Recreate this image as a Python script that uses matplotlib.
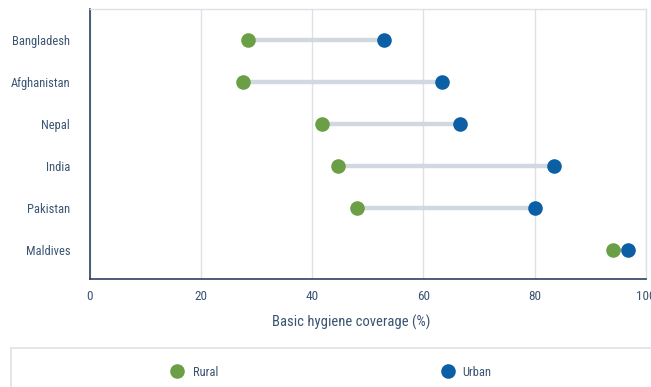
import matplotlib
matplotlib.use("Agg")
import matplotlib.pyplot as plt
from matplotlib import font_manager
from matplotlib.lines import Line2D

# prefer a narrow sans face when one is installed
_installed = {f.name for f in font_manager.fontManager.ttflist}
_prefs = ["Roboto Condensed", "Liberation Sans Narrow", "Open Sans Condensed",
          "Noto Sans Display", "Liberation Sans", "Roboto"]
_face = next((f for f in _prefs if f in _installed), "DejaVu Sans")
plt.rcParams['font.family'] = [_face, 'DejaVu Sans']

countries = ["Bangladesh", "Afghanistan", "Nepal", "India", "Pakistan", "Maldives"]
rural = [28.5, 27.5, 41.8, 44.7, 48.0, 94.1]
urban = [53.0, 63.3, 66.6, 83.4, 80.0, 96.8]
x_ticks = [0, 20, 40, 60, 80, 100]

GREEN = "#6a9f45"
BLUE = "#0b5fa4"
LINK = "#d2d8df"
TEXT = "#3a5472"
NAVY = "#2c4260"
GRID = "#dde1e6"

fig = plt.figure(figsize=(6.51, 3.87), dpi=100)
W, H = 651, 387
ax = fig.add_axes([89.6 / W, 1 - 279 / H, (646 - 89.6) / W, (279 - 9) / H])

ypos = list(range(len(countries)))
for y, r, u in zip(ypos, rural, urban):
    ax.plot([r, u], [y, y], color=LINK, lw=3.2, solid_capstyle="butt", zorder=2)
ax.plot(rural, ypos, "o", color=GREEN, ms=10.5, mec="none", zorder=3, clip_on=False)
ax.plot(urban, ypos, "o", color=BLUE, ms=10.5, mec="none", zorder=3, clip_on=False)

ax.set_xlim(0, 100)
ax.set_ylim(5.7, -0.74)
ax.set_xticks(x_ticks)
ax.set_xticklabels([str(t) for t in x_ticks], color=TEXT, fontsize=9.5)
ax.set_yticks(ypos)
ax.set_yticklabels(countries, color=TEXT, fontsize=9)
ax.tick_params(axis="both", length=0)
ax.tick_params(axis="x", pad=8)
ax.tick_params(axis="y", pad=14)

ax.grid(axis="x", color=GRID, lw=1, zorder=0)
ax.set_axisbelow(True)
for side in ("top", "right"):
    ax.spines[side].set_color(GRID)
    ax.spines[side].set_linewidth(1)
for side in ("left", "bottom"):
    ax.spines[side].set_color(NAVY)
    ax.spines[side].set_linewidth(1.2)

fig.text(351 / W, 1 - 322 / H, "Basic hygiene coverage (%)", color=TEXT,
         fontsize=10.5, ha="center", va="center")

# legend panel
panel = fig.add_axes([11 / W, 0, 1 - 11 / W, 1 - 348 / H])
panel.set_xlim(0, 1)
panel.set_ylim(0, 1)
panel.set_xticks([])
panel.set_yticks([])
for side in ("bottom", "right"):
    panel.spines[side].set_visible(False)
for side in ("top", "left"):
    panel.spines[side].set_color(GRID)
    panel.spines[side].set_linewidth(1.2)

fig.add_artist(Line2D([177 / W], [1 - 371 / H], marker="o", color=GREEN,
                      ms=10.5, mec="none", transform=fig.transFigure))
fig.text(193 / W, 1 - 372 / H, "Rural", color=TEXT, fontsize=9, va="center")
fig.add_artist(Line2D([448 / W], [1 - 371 / H], marker="o", color=BLUE,
                      ms=10.5, mec="none", transform=fig.transFigure))
fig.text(462 / W, 1 - 372 / H, "Urban", color=TEXT, fontsize=9, va="center")

fig.savefig("out.png", dpi=100)
